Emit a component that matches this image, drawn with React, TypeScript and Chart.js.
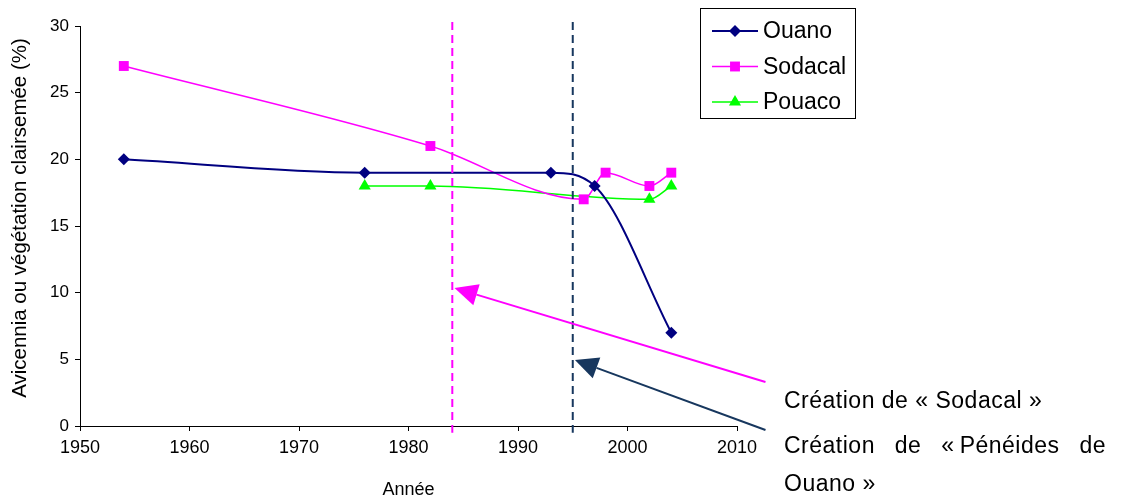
import React, { useEffect, useRef } from 'react';
import { Chart, registerables } from 'chart.js';

Chart.register(...registerables);

// ---- Data ----
const seriesNames = ['Ouano', 'Sodacal', 'Pouaco'];
const ouanoYears = [1954, 1976, 1993, 1997, 2004];
const ouanoValues = [20, 19, 19, 18, 7];
const sodacalYears = [1954, 1982, 1996, 1998, 2002, 2004];
const sodacalValues = [27, 21, 17, 19, 18, 19];
const pouacoYears = [1976, 1982, 2002, 2004];
const pouacoValues = [18, 18, 17, 18];

const xTickValues = [1950, 1960, 1970, 1980, 1990, 2000, 2010];
const yTickValues = [0, 5, 10, 15, 20, 25, 30];

// vertical event lines (year)
const eventYears = [1984, 1995];
// arrows: [fromYear, fromValue, toYear, toValue]
const arrowSodacal = [2012.6, 3.3, 1984.2, 10.35];
const arrowOuano = [2012.6, -0.3, 1995.2, 4.95];

const xTitle = 'Année';
const yTitle = 'Avicennia ou végétation clairsemée (%)';
const noteSodacal = 'Création de «\u00a0Sodacal\u00a0»';
const noteOuano = 'Création de «\u202fPénéides de Ouano\u00a0»';

// ---- Styles ----
const FONT = "'Liberation Sans', Arial, sans-serif";
const NAVY = '#000080';
const MAGENTA = '#FF00FF';
const GREEN = '#00FF00';
const DARKBLUE = '#17375E';

const toPoints = (xs: number[], ys: number[]) => xs.map((x, i) => ({ x, y: ys[i] }));

function drawMarker(ctx: CanvasRenderingContext2D, style: string, x: number, y: number, r: number, color: string) {
  ctx.beginPath();
  if (style === 'rectRot') {
    ctx.moveTo(x, y - r);
    ctx.lineTo(x + r, y);
    ctx.lineTo(x, y + r);
    ctx.lineTo(x - r, y);
  } else if (style === 'rect') {
    const s = r * Math.SQRT1_2;
    ctx.rect(x - s, y - s, 2 * s, 2 * s);
  } else {
    const size = (3 * r) / Math.sqrt(3);
    const h = (size * Math.sqrt(3)) / 2;
    ctx.moveTo(x, y - (2 * h) / 3);
    ctx.lineTo(x + size / 2, y + h / 3);
    ctx.lineTo(x - size / 2, y + h / 3);
  }
  ctx.closePath();
  ctx.fillStyle = color;
  ctx.fill();
}

function drawArrow(ctx: CanvasRenderingContext2D, x1: number, y1: number, x2: number, y2: number, color: string) {
  const ang = Math.atan2(y2 - y1, x2 - x1);
  const headLen = 23;
  const headHalf = 11;
  const bx = x2 - headLen * Math.cos(ang);
  const by = y2 - headLen * Math.sin(ang);
  ctx.strokeStyle = color;
  ctx.lineWidth = 2;
  ctx.setLineDash([]);
  ctx.beginPath();
  ctx.moveTo(x1, y1);
  ctx.lineTo(bx, by);
  ctx.stroke();
  ctx.fillStyle = color;
  ctx.beginPath();
  ctx.moveTo(x2, y2);
  ctx.lineTo(bx + headHalf * Math.sin(ang), by - headHalf * Math.cos(ang));
  ctx.lineTo(bx - headHalf * Math.sin(ang), by + headHalf * Math.cos(ang));
  ctx.closePath();
  ctx.fill();
}

const overlayPlugin = {
  id: 'overlay',
  afterDatasetsDraw(chart: any) {
    const { ctx, scales } = chart;
    const x = scales.x;
    const y = scales.y;
    ctx.save();
    const colors = [MAGENTA, DARKBLUE];
    eventYears.forEach((yr, i) => {
      const px = x.getPixelForValue(yr);
      ctx.strokeStyle = colors[i];
      ctx.lineWidth = 2;
      ctx.setLineDash([8, 5]);
      ctx.beginPath();
      ctx.moveTo(px, y.getPixelForValue(30.3));
      ctx.lineTo(px, y.getPixelForValue(-0.5));
      ctx.stroke();
    });
    drawArrow(ctx, x.getPixelForValue(arrowSodacal[0]), y.getPixelForValue(arrowSodacal[1]),
      x.getPixelForValue(arrowSodacal[2]), y.getPixelForValue(arrowSodacal[3]), MAGENTA);
    drawArrow(ctx, x.getPixelForValue(arrowOuano[0]), y.getPixelForValue(arrowOuano[1]),
      x.getPixelForValue(arrowOuano[2]), y.getPixelForValue(arrowOuano[3]), DARKBLUE);
    ctx.restore();
  },
  afterDraw(chart: any) {
    const { ctx, chartArea } = chart;
    ctx.save();
    ctx.fillStyle = '#000';
    ctx.textAlign = 'center';
    ctx.textBaseline = 'middle';
    ctx.font = `18px ${FONT}`;
    ctx.fillText(xTitle, (chartArea.left + chartArea.right) / 2, 490);
    ctx.save();
    ctx.translate(20, 218);
    ctx.rotate(-Math.PI / 2);
    ctx.font = `20.5px ${FONT}`;
    ctx.fillText(yTitle, 0, 0);
    ctx.restore();

    // legend
    ctx.strokeStyle = '#000';
    ctx.lineWidth = 1;
    ctx.strokeRect(700.5, 8.5, 155, 110);
    ctx.textAlign = 'left';
    ctx.font = `23px ${FONT}`;
    chart.data.datasets.forEach((ds: any, i: number) => {
      const ly = 31 + i * 35.5;
      ctx.strokeStyle = ds.borderColor;
      ctx.lineWidth = ds.borderWidth;
      ctx.beginPath();
      ctx.moveTo(712, ly);
      ctx.lineTo(758, ly);
      ctx.stroke();
      drawMarker(ctx, ds.pointStyle, 735, ly, ds.pointRadius, ds.pointBackgroundColor);
      ctx.fillStyle = '#000';
      ctx.fillText(ds.label, 763, ly + 1);
    });
    ctx.restore();
  },
};

export default function App() {
  const canvasRef = useRef<HTMLCanvasElement | null>(null);

  useEffect(() => {
    document.body.style.margin = '0';
    const canvas = canvasRef.current;
    if (!canvas) return;
    const tickFont = { family: FONT, size: 18 };
    const common = { cubicInterpolationMode: 'monotone', pointBorderWidth: 0, clip: false };
    const chart = new Chart(canvas, {
      type: 'line',
      data: {
        datasets: [
          {
            ...common,
            label: seriesNames[0],
            data: toPoints(ouanoYears, ouanoValues),
            borderColor: NAVY,
            backgroundColor: NAVY,
            pointBackgroundColor: NAVY,
            pointBorderColor: NAVY,
            borderWidth: 2,
            pointStyle: 'rectRot',
            pointRadius: 6,
          },
          {
            ...common,
            label: seriesNames[1],
            data: toPoints(sodacalYears, sodacalValues),
            borderColor: MAGENTA,
            backgroundColor: MAGENTA,
            pointBackgroundColor: MAGENTA,
            pointBorderColor: MAGENTA,
            borderWidth: 1.5,
            pointStyle: 'rect',
            pointRadius: 7,
          },
          {
            ...common,
            label: seriesNames[2],
            data: toPoints(pouacoYears, pouacoValues),
            borderColor: GREEN,
            backgroundColor: GREEN,
            pointBackgroundColor: GREEN,
            pointBorderColor: GREEN,
            borderWidth: 1.5,
            pointStyle: 'triangle',
            pointRadius: 7,
          },
        ] as any,
      },
      options: {
        animation: false,
        responsive: false,
        maintainAspectRatio: false,
        layout: { padding: { left: 0, right: 386, top: 26, bottom: 0 } },
        plugins: {
          legend: { display: false },
          tooltip: { enabled: false },
        },
        scales: {
          x: {
            type: 'linear',
            min: 1950,
            max: 2010,
            afterBuildTicks: (s: any) => { s.ticks = xTickValues.map((v) => ({ value: v })); },
            afterFit: (s: any) => { s.height = 73; },
            ticks: { font: tickFont, color: '#000', padding: 6, maxRotation: 0, callback: (v: any) => String(v) },
            grid: { display: true, drawOnChartArea: false, drawTicks: true, tickLength: 5, color: '#000' },
            border: { display: true, color: '#000', width: 1 },
          },
          y: {
            type: 'linear',
            min: 0,
            max: 30,
            afterBuildTicks: (s: any) => { s.ticks = yTickValues.map((v) => ({ value: v })); },
            afterFit: (s: any) => { s.width = 80; },
            ticks: { font: { family: FONT, size: 17 }, color: '#000', padding: 6, callback: (v: any) => String(v) },
            grid: { display: true, drawOnChartArea: false, drawTicks: true, tickLength: 5, color: '#000' },
            border: { display: true, color: '#000', width: 1 },
          },
        },
      } as any,
      plugins: [overlayPlugin],
    });
    return () => chart.destroy();
  }, []);

  const noteStyle: React.CSSProperties = {
    position: 'absolute',
    left: 784,
    font: `23px ${FONT}`,
    letterSpacing: '0.5px',
    lineHeight: '38px',
    color: '#000',
    margin: 0,
  };

  return (
    <div style={{ position: 'relative', width: 1123, height: 499, background: '#fff', overflow: 'hidden' }}>
      <canvas ref={canvasRef} width={1123} height={499} style={{ position: 'absolute', left: 0, top: 0, width: 1123, height: 499 }} />
      <div style={{ ...noteStyle, top: 381, whiteSpace: 'nowrap' }}>{noteSodacal}</div>
      <div style={{ ...noteStyle, top: 426, width: 322, textAlign: 'justify' }}>{noteOuano}</div>
    </div>
  );
}
